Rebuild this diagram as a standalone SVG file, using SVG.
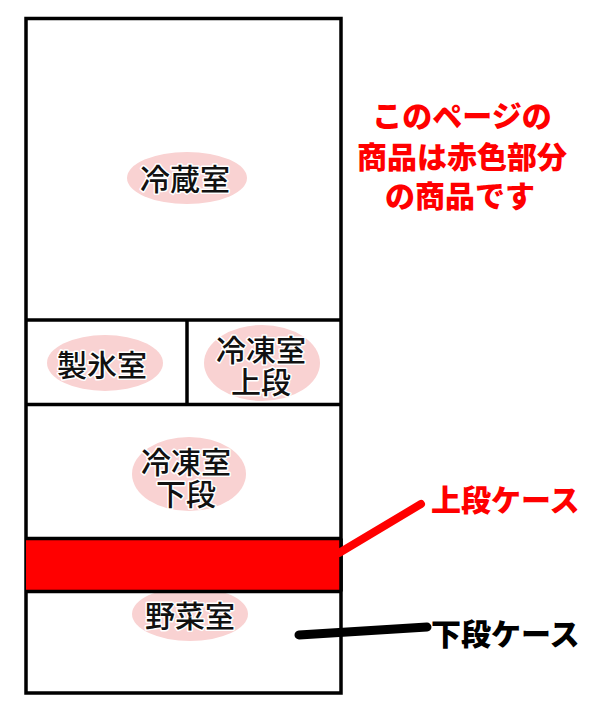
<svg xmlns="http://www.w3.org/2000/svg" width="600" height="720" viewBox="0 0 600 720">
<style>
.box{fill:#ffffff;stroke:#000000;stroke-width:3.5}
.div{stroke:#000000;stroke-width:3.5;fill:none}
.ell{fill:#f9d2d2}
.lbl{font-family:"Noto Sans CJK JP","Noto Sans CJK SC",sans-serif;font-size:30px;font-weight:500;fill:#111111;stroke:#ffffff;stroke-width:3;paint-order:stroke;stroke-linejoin:round;text-anchor:middle}
.note{font-family:"Noto Sans CJK JP","Noto Sans CJK SC",sans-serif;font-size:30px;font-weight:900;fill:#ff0000;text-anchor:middle}
.call{font-family:"Noto Sans CJK JP","Noto Sans CJK SC",sans-serif;font-size:30px;font-weight:900;text-anchor:start}
</style>
<rect width="600" height="720" fill="#ffffff"/>
<g id="fridge">
<rect class="box" x="26" y="18.5" width="315" height="674.5"/>
<line class="div" x1="26" y1="320" x2="341" y2="320"/>
<line class="div" x1="26" y1="404.5" x2="341" y2="404.5"/>
<line class="div" x1="187" y1="320" x2="187" y2="404.5"/>
</g>
<g id="reizoushitsu">
<ellipse class="ell" cx="187" cy="178" rx="60" ry="26"/>
<text class="lbl" x="185" y="190">冷蔵室</text>
</g>
<g id="seihyoushitsu">
<ellipse class="ell" cx="105" cy="363" rx="58" ry="28"/>
<text class="lbl" x="102" y="376">製氷室</text>
</g>
<g id="reitou-jodan">
<ellipse class="ell" cx="262" cy="363" rx="58" ry="38"/>
<text class="lbl"><tspan x="261" y="361">冷凍室</tspan><tspan x="261" y="393">上段</tspan></text>
</g>
<g id="reitou-gedan">
<ellipse class="ell" cx="189" cy="474" rx="57" ry="37"/>
<text class="lbl"><tspan x="186" y="473">冷凍室</tspan><tspan x="186" y="505">下段</tspan></text>
</g>
<g id="yasaishitsu">
<ellipse class="ell" cx="190" cy="614" rx="58" ry="27"/>
<text class="lbl" x="190" y="627">野菜室</text>
</g>
<g id="upper-case">
<rect x="26" y="538.5" width="315" height="53" fill="#ff0000"/>
<line class="div" x1="26" y1="538.5" x2="341" y2="538.5"/>
<line class="div" x1="26" y1="591.5" x2="341" y2="591.5"/>
<line class="div" x1="341" y1="538.5" x2="341" y2="591.5"/>
</g>
<g id="connectors">
<line x1="339" y1="553" x2="421" y2="504" stroke="#ff0000" stroke-width="8" stroke-linecap="round"/>
<line x1="299" y1="635" x2="427" y2="627" stroke="#000000" stroke-width="9" stroke-linecap="round"/>
</g>
<g id="label-upper">
<text class="call" x="431" y="511" fill="#ff0000">上段ケース</text>
</g>
<g id="label-lower">
<text class="call" x="431" y="645" fill="#000000">下段ケース</text>
</g>
<g id="note">
<text class="note"><tspan x="462" y="127">このページの</tspan><tspan x="462" y="168">商品は赤色部分</tspan><tspan x="460" y="207">の商品です</tspan></text>
</g>
</svg>
